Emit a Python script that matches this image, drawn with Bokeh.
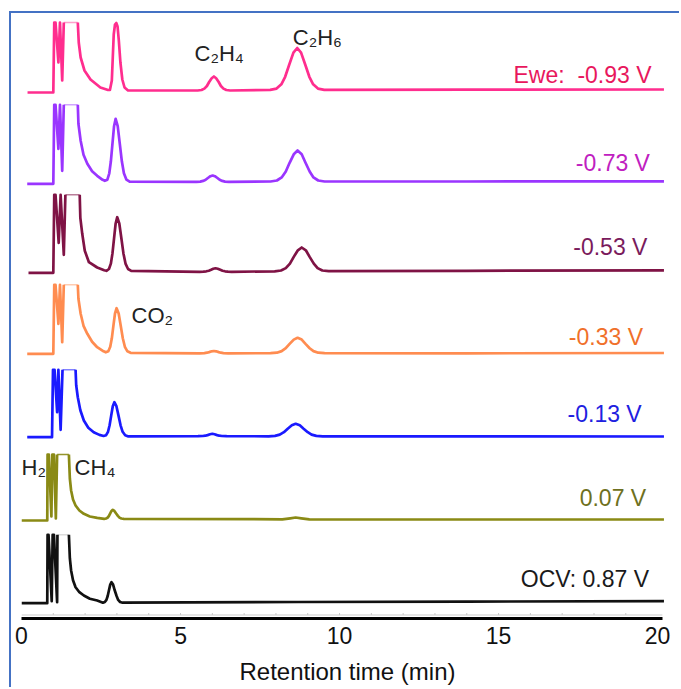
from bokeh.plotting import figure
from bokeh.models import Range1d, FixedTicker, ColumnDataSource
from bokeh.core.properties import value
from bokeh.embed import file_html
from bokeh.resources import INLINE

# ---- chromatogram traces: retention time (min) and detector signal (a.u., above own baseline)
t_n093 = [0.19, 1.00, 1.03, 1.07, 1.16, 1.21, 1.28, 1.33, 1.77, 1.80, 1.86, 1.98, 2.17, 2.48, 2.72,
          2.78, 2.84, 2.87, 2.90, 2.94, 2.98, 3.02, 3.06, 3.11, 3.17, 3.24, 3.35,
          5.54, 5.66, 5.75, 5.83, 5.90, 5.98, 6.05, 6.12, 6.20, 6.27, 6.35, 6.44, 6.56,
          7.82, 8.02, 8.17, 8.29, 8.42, 8.55, 8.67, 8.79, 8.92, 9.05, 9.17, 9.32, 9.52, 14.0, 20.2]
s_n093 = [0, 0, 70, 70, 30, 70, 12, 70, 70, 50, 35, 22, 13, 5, 2.5,
          2.5, 12, 35, 58, 68, 69.5, 66, 52, 30, 13, 5, 2,
          2, 2.5, 3.9, 6.5, 10.5, 14.3, 16, 14.3, 10.5, 6.5, 3.9, 2.5, 2,
          2.6, 3.9, 8.2, 15.7, 28, 39.9, 44.5, 39.9, 28, 15.7, 8.2, 3.9, 2.6, 2.8, 3]

t_n073 = [0.18, 1.00, 1.03, 1.07, 1.16, 1.21, 1.28, 1.33, 1.77, 1.79, 1.86, 1.95, 2.07, 2.22, 2.38, 2.55,
          2.62, 2.70, 2.76, 2.81, 2.86, 2.91, 2.96, 3.025, 3.09, 3.155, 3.22, 3.30, 3.40,
          5.50, 5.62, 5.71, 5.79, 5.86, 5.94, 6.01, 6.08, 6.16, 6.23, 6.31, 6.40, 6.52,
          7.83, 8.03, 8.18, 8.31, 8.43, 8.56, 8.68, 8.81, 8.93, 9.06, 9.18, 9.33, 9.53, 14.0, 20.2]
s_n073 = [0, 0, 79, 79, 35, 79, 13, 79, 79, 60, 43, 29, 20, 12.5, 8, 4,
          3, 4.1, 10.5, 22.5, 40.2, 57.6, 65, 57.6, 40.2, 22.5, 10.5, 4.1, 2.1,
          2, 2.2, 2.9, 4, 5.8, 7.6, 8.3, 7.6, 5.8, 4, 2.9, 2.2, 2,
          2.3, 3.3, 6.4, 12.3, 21, 29.5, 33.3, 29.5, 21, 12.3, 6.4, 3.3, 2.3, 2.3, 2.5]

t_n053 = [0.22, 1.00, 1.03, 1.07, 1.17, 1.23, 1.33, 1.38, 1.83, 1.85, 1.91, 1.99, 2.12, 2.38, 2.60,
          2.67, 2.75, 2.81, 2.86, 2.91, 2.96, 3.01, 3.075, 3.14, 3.205, 3.27, 3.35, 3.45,
          5.60, 5.72, 5.81, 5.89, 5.96, 6.03, 6.10, 6.17, 6.25, 6.32, 6.40, 6.49, 6.61,
          7.96, 8.16, 8.31, 8.44, 8.56, 8.69, 8.81, 8.94, 9.06, 9.19, 9.31, 9.46, 9.66, 14.0, 20.2]
s_n053 = [0, 0, 78, 78, 30, 78, 18, 78, 78, 55, 39, 22, 10.6, 5.3, 2.6,
          2, 3.8, 9.2, 19.4, 34.5, 49.3, 55.6, 49.3, 34.5, 19.4, 9.2, 3.8, 2,
          1, 1.1, 1.5, 2.1, 3.0, 4.0, 4.5, 4.0, 3.0, 2.1, 1.5, 1.1, 1,
          1.5, 2.3, 4.7, 9.2, 15.9, 22.5, 25.3, 22.5, 15.9, 9.2, 4.7, 2.3, 1.6, 2, 2.5]

t_n033 = [0.18, 1.00, 1.03, 1.07, 1.16, 1.21, 1.28, 1.33, 1.77, 1.79, 1.86, 1.95, 2.07, 2.22, 2.38, 2.58,
          2.65, 2.73, 2.79, 2.84, 2.89, 2.94, 2.99, 3.055, 3.12, 3.185, 3.25, 3.33, 3.43,
          5.60, 5.75, 5.83, 5.90, 5.98, 6.05, 6.12, 6.20, 6.27, 6.35, 6.50,
          7.83, 8.03, 8.18, 8.31, 8.43, 8.56, 8.68, 8.81, 8.93, 9.06, 9.18, 9.33, 9.53, 14.0, 20.2]
s_n033 = [0, 0, 69, 69, 30, 69, 11.6, 69, 69, 55, 40, 28, 20, 12, 6.6, 2.5,
          1.5, 2.5, 7, 15.5, 28.1, 40.3, 45.6, 40.3, 28.1, 15.5, 7, 2.5, 1,
          0.5, 0.7, 1.1, 1.7, 2.5, 2.8, 2.5, 1.7, 1.1, 0.7, 0.5,
          0.6, 1.1, 2.7, 5.6, 9.9, 14.2, 16, 14.2, 9.9, 5.6, 2.7, 1.1, 0.6, 0.5, 0.8]

t_n013 = [0.18, 0.96, 0.99, 1.04, 1.12, 1.16, 1.23, 1.29, 1.70, 1.72, 1.77, 1.85, 1.96, 2.10, 2.27, 2.45,
          2.58, 2.66, 2.72, 2.77, 2.82, 2.87, 2.92, 2.985, 3.05, 3.115, 3.18, 3.26, 3.36,
          5.55, 5.70, 5.78, 5.85, 5.93, 6.00, 6.07, 6.15, 6.22, 6.30, 6.45,
          7.77, 7.97, 8.12, 8.25, 8.37, 8.50, 8.62, 8.75, 8.87, 9.00, 9.12, 9.27, 9.47, 14.0, 20.2]
s_n013 = [0, 0, 67.4, 67.4, 25, 67.4, 7.4, 67.4, 67.4, 52, 40, 27, 16.7, 9.5, 5, 2.3,
          1.2, 2, 5.4, 11.9, 21.6, 31, 35, 31, 21.6, 11.9, 5.4, 2, 0.8,
          1, 1.2, 1.5, 2.1, 2.9, 3.4, 2.9, 2.1, 1.5, 1.2, 1,
          0.9, 1.3, 2.6, 5, 8.5, 11.9, 13.4, 11.9, 8.5, 5, 2.6, 1.3, 0.9, 0.8, 0.7]

t_p007 = [0.0, 0.81, 0.82, 0.86, 0.94, 0.97, 1.02, 1.08, 1.12, 1.49, 1.52, 1.56, 1.62, 1.70, 1.82, 1.96, 2.15, 2.38,
          2.60, 2.66, 2.71, 2.75, 2.79, 2.83, 2.87, 2.92, 2.97, 3.03, 3.08, 3.14, 3.22,
          8.20, 8.45, 8.62, 8.80, 9.05, 14.0, 20.2]
s_p007 = [0, 0, 66, 66, 4, 66, 66, 2, 66, 66, 42, 30, 21, 15, 10, 6.7, 4, 2.7,
          1.7, 2.0, 2.9, 4.6, 7.2, 9.6, 10.7, 9.6, 7.2, 4.6, 2.9, 2.0, 1.7,
          1.2, 2.2, 3.0, 2.2, 1.2, 1, 1]

t_ocv = [0.0, 0.81, 0.82, 0.85, 0.95, 0.98, 1.02, 1.12, 1.13, 1.49, 1.52, 1.56, 1.62, 1.70, 1.82, 1.96, 2.15, 2.38,
         2.56, 2.62, 2.67, 2.71, 2.75, 2.79, 2.83, 2.88, 2.93, 2.99, 3.04, 3.10, 3.18,
         8.7, 14.0, 20.2]
s_ocv = [0, 0, 68.4, 68.4, 2, 68.4, 68.4, 1, 68.4, 68.4, 45, 32.7, 23, 16, 11, 7.7, 4.5, 2.7,
         0.5, 1.2, 3.3, 7.2, 12.9, 18.6, 21, 18.6, 12.9, 7.2, 3.3, 1.2, 0.5,
         1.2, 1.6, 2]

# off-scale (detector saturation) level of each trace
clip_level = [70, 79, 78, 69, 67.4, 66, 68.4]

potential_labels = ["Ewe:\u00a0 -0.93 V", "-0.73 V", "-0.53 V", "-0.33 V", "-0.13 V", "0.07 V", "OCV: 0.87 V"]
peak_labels = ["C\u2082H\u2084", "C\u2082H\u2086", "CO\u2082", "H\u2082", "CH\u2084"]
x_ticks = [0, 5, 10, 15, 20]
minute_marks = list(range(1, 20))

# ---- layout / style
stack_offset = [526, 434.7, 345.7, 264.7, 181.3, 98, 15.3]
line_colors = ["#ff2d8e", "#9a35ff", "#7f1345", "#ff8c50", "#1a1aff", "#8a8a15", "#111111"]
label_colors = ["#e8175d", "#c020c0", "#7a1b5c", "#f0702a", "#2020e0", "#6e7020", "#1a1a1a"]
clip_alpha = [0.45, 0.45, 0.55, 0.45, 0.55, 0.9, 0.15]
label_right = [19.81, 19.76, 19.68, 19.54, 19.50, 19.64, 19.73]
label_rise = [17.7, 20.6, 25.6, 16.6, 23.4, 22.3, 24.4]
peak_label_x = [5.44, 8.53, 3.46, 0.0, 1.67]
peak_label_y = [564.7, 581.3, 303, 151.3, 151.3]

traces = [(t_n093, s_n093), (t_n073, s_n073), (t_n053, s_n053), (t_n033, s_n033),
          (t_n013, s_n013), (t_p007, s_p007), (t_ocv, s_ocv)]

FONT = "Liberation Sans"

p = figure(width=670, height=676, x_range=Range1d(0, 20.5), y_range=Range1d(0, 605),
           output_backend="svg", toolbar_location=None, y_axis_location=None,
           min_border_left=10, min_border_right=8, min_border_top=0, min_border_bottom=71)
p.outline_line_color = None
p.xgrid.visible = False
p.ygrid.visible = False
p.background_fill_color = "white"
p.border_fill_color = "white"
p.styles = {"margin-left": "9px", "margin-top": "11px",
            "border-left": "2px solid #4472c4", "border-top": "2px solid #4472c4"}

# faint gridline with minute marks just above the axis
p.segment(x0=[0], y0=[3.5], x1=[20.15], y1=[3.5], line_color="#dddddd", line_width=1.5)
p.segment(x0=minute_marks, y0=[3.5] * len(minute_marks), x1=minute_marks, y1=[5.5] * len(minute_marks),
          line_color="#c8c8c8", line_width=1)


def split_trace(t, s, top, base):
    """Break a trace where it runs flat along the saturation level."""
    xs, ys, flat = [], [], []
    cx, cy = [t[0]], [s[0] + base]
    for i in range(1, len(t)):
        if s[i - 1] == top and s[i] == top and t[i] - t[i - 1] > 0.1:
            flat.append((t[i - 1], t[i]))
            xs.append(cx)
            ys.append(cy)
            cx, cy = [t[i]], [s[i] + base]
        else:
            cx.append(t[i])
            cy.append(s[i] + base)
    xs.append(cx)
    ys.append(cy)
    return xs, ys, flat


for (t, s), top, base, col, ca in zip(traces, clip_level, stack_offset, line_colors, clip_alpha):
    xs, ys, flat = split_trace(t, s, top, base)
    for a, b in flat:
        p.segment(x0=[a], y0=[top + base], x1=[b], y1=[top + base],
                  line_color=col, line_alpha=ca, line_width=1.5)
    p.multi_line(xs=xs, ys=ys, line_color=col, line_width=2.7, line_join="round")

lab_src = ColumnDataSource(dict(
    x=label_right,
    y=[o + r for o, r in zip(stack_offset, label_rise)],
    text=potential_labels,
    color=label_colors,
))
p.text(x="x", y="y", text="text", text_color="color", source=lab_src,
       text_align="right", text_baseline="alphabetic",
       text_font=value(FONT), text_font_size=value("23px"))

p.text(x=peak_label_x, y=peak_label_y, text=peak_labels, text_color="#222222",
       text_align="left", text_baseline="alphabetic",
       text_font=value(FONT), text_font_size=value("22px"))

ax = p.xaxis[0]
ax.ticker = FixedTicker(ticks=x_ticks)
ax.bounds = (0, 20.15)
ax.axis_line_width = 3
ax.axis_line_color = "black"
ax.major_tick_line_color = None
ax.minor_tick_line_color = None
ax.major_tick_in = 0
ax.major_tick_out = 0
ax.major_label_standoff = 8
ax.major_label_text_font = FONT
ax.major_label_text_font_size = "23px"
ax.major_label_text_color = "#111111"
ax.axis_label = "Retention time (min)"
ax.axis_label_text_font = FONT
ax.axis_label_text_font_size = "24px"
ax.axis_label_text_font_style = "normal"
ax.axis_label_text_color = "#111111"
ax.axis_label_standoff = 11

open("out.html", "w").write(file_html(p, INLINE))
